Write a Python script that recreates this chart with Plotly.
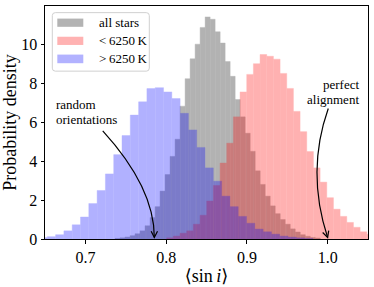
import numpy as np
import plotly.graph_objects as go

# ---------------- data (histogram densities) ----------------
gray_bin_start = 0.7367
gray_bin_width = 0.0062
gray_density = [0.03, 0.06, 0.10, 0.17, 0.27, 0.42, 0.68, 1.10, 1.66, 2.46, 3.31, 4.24,
                5.12, 6.82, 8.23, 9.25, 10.0, 10.86, 11.40, 11.28, 10.64, 10.06, 9.11,
                8.35, 7.16, 6.27, 5.43, 4.50, 3.50, 2.80, 2.20, 1.70, 1.30, 1.00, 0.76,
                0.52, 0.36, 0.22, 0.14, 0.08, 0.05]

red_bin_start = 0.8007
red_bin_width = 0.00826
red_density = [0.06, 0.15, 0.30, 0.42, 0.76, 1.22, 1.95, 2.75, 3.90, 4.92, 6.27, 7.55,
               8.45, 9.00, 9.47, 9.38, 9.23, 8.50, 7.73, 6.55, 5.51, 4.49, 3.65, 2.92,
               2.12, 1.53, 1.16, 0.85, 0.60, 0.37, 0.25, 0.15]

blue_bin_start = 0.64257
blue_bin_width = 0.01028
blue_density = [0.07, 0.12, 0.22, 0.42, 0.73, 1.13, 1.82, 2.49, 3.34, 4.33, 5.31, 6.36,
                7.04, 7.72, 7.77, 7.55, 7.21, 6.45, 5.60, 4.70, 3.65, 2.97, 2.20, 1.66,
                1.16, 0.81, 0.51, 0.37, 0.25, 0.15, 0.10, 0.06, 0.03]

series_names = ["all stars", "&lt;\u20096250\u2009K", "&gt;\u20096250\u2009K"]
x_ticks = [0.7, 0.8, 0.9, 1.0]
y_ticks = [0, 2, 4, 6, 8, 10]
random_value = np.pi / 4
aligned_value = 1.0

# ---------------- figure ----------------
FONT = "Liberation Serif, Times New Roman, DejaVu Serif, serif"
XR = [0.65, 1.05]
YR = [0, 11.96]

def centers(start, width, vals):
    return start + width * (np.arange(len(vals)) + 0.5)

fig = go.Figure()
styles = [("gray", 0.6), ("red", 0.3), ("blue", 0.3)]
hists = [(gray_bin_start, gray_bin_width, gray_density),
         (red_bin_start, red_bin_width, red_density),
         (blue_bin_start, blue_bin_width, blue_density)]
for (start, width, vals), (col, op), name in zip(hists, styles, series_names):
    fig.add_trace(go.Bar(x=centers(start, width, vals), y=vals, width=width,
                         marker=dict(color=col, line=dict(width=0.4, color=col)),
                         opacity=op, name=name, showlegend=False))

shapes = []
annotations = []

# curved arrows (quadratic bezier in data coords) with open arrow heads
PX_X = 323 / (XR[1] - XR[0])
PX_Y = 235 / (YR[1] - YR[0])

def arrow(p0, c, p2):
    path = f"M {p0[0]},{p0[1]} Q {c[0]},{c[1]} {p2[0]},{p2[1]}"
    shapes.append(dict(type="path", path=path, xref="x", yref="y",
                       line=dict(color="black", width=1.2)))
    dx = (p2[0] - c[0]) * PX_X
    dy = (p2[1] - c[1]) * PX_Y
    n = np.hypot(dx, dy)
    ux, uy = dx / n, dy / n
    L, ang = 7.0, np.radians(27)
    pts = []
    for s in (1, -1):
        ca, sa = np.cos(s * ang), np.sin(s * ang)
        bx = -(ux * ca - uy * sa) * L
        by = -(ux * sa + uy * ca) * L
        pts.append((p2[0] + bx / PX_X, p2[1] + by / PX_Y))
    hp = f"M {pts[0][0]},{pts[0][1]} L {p2[0]},{p2[1]} L {pts[1][0]},{pts[1][1]}"
    shapes.append(dict(type="path", path=hp, xref="x", yref="y",
                       line=dict(color="black", width=1.2)))

arrow((0.7215, 5.55), (random_value, 2.65), (random_value, 0.08))
arrow((1.0008, 6.70), (0.9732, 3.46), (aligned_value, 0.08))

ann_font = dict(family=FONT, size=13, color="black")
annotations += [
    dict(text="random", x=0.0279, y=(240 - 104.5) / 235, xref="paper", yref="paper",
         xanchor="left", yanchor="middle", showarrow=False, font=ann_font),
    dict(text="orientations", x=0.0279, y=(240 - 119.5) / 235, xref="paper", yref="paper",
         xanchor="left", yanchor="middle", showarrow=False, font=ann_font),
    dict(text="perfect", x=(361 - 45) / 323, y=(240 - 84) / 235, xref="paper", yref="paper",
         xanchor="right", yanchor="middle", showarrow=False, font=ann_font),
    dict(text="alignment", x=(361 - 45) / 323, y=(240 - 99) / 235, xref="paper", yref="paper",
         xanchor="right", yanchor="middle", showarrow=False, font=ann_font),
]

# legend box drawn manually (matplotlib-like)
def px2paper(px, py):
    return (px - 45) / 323, (240 - py) / 235

x0, y1 = px2paper(52.3, 11.7)
x1, y0 = px2paper(149.3, 70.7)
rx, ry = 3 / 323, 3 / 235
box = (f"M {x0+rx},{y1} L {x1-rx},{y1} Q {x1},{y1} {x1},{y1-ry} L {x1},{y0+ry} "
       f"Q {x1},{y0} {x1-rx},{y0} L {x0+rx},{y0} Q {x0},{y0} {x0},{y0+ry} "
       f"L {x0},{y1-ry} Q {x0},{y1} {x0+rx},{y1} Z")
shapes.append(dict(type="path", path=box, xref="paper", yref="paper",
                   fillcolor="rgba(255,255,255,0.8)", line=dict(color="#d0d0d0", width=1),
                   layer="above"))
rows = [(17.7, 26.0, 22.0), (36.0, 44.3, 40.0), (54.0, 62.7, 58.3)]
for (top, bot, mid), (col, op), name in zip(rows, styles, series_names):
    px0, py1 = px2paper(57.3, top)
    px1, py0 = px2paper(83.3, bot)
    shapes.append(dict(type="rect", x0=px0, x1=px1, y0=py0, y1=py1, xref="paper",
                       yref="paper", fillcolor=col, opacity=op, line=dict(width=0),
                       layer="above"))
    tx, ty = px2paper(96.5, mid)
    annotations.append(dict(text=name, x=tx, y=ty, xref="paper", yref="paper",
                            xanchor="left", yanchor="middle", showarrow=False,
                            font=ann_font))

fig.update_layout(
    width=374, height=287,
    margin=dict(l=45, r=6, t=5, b=47),
    paper_bgcolor="white", plot_bgcolor="white",
    barmode="overlay",
    shapes=shapes, annotations=annotations,
    font=dict(family=FONT, color="black"),
    xaxis=dict(range=XR, tickvals=x_ticks, ticktext=[f"{v:.1f}" for v in x_ticks],
               ticks="outside", ticklen=3.5, tickwidth=0.8, tickcolor="black",
               showline=True, mirror=True, linecolor="black", linewidth=1,
               showgrid=False, zeroline=False, tickfont=dict(size=16, family=FONT),
               title=dict(text="\u27e8sin\u2009<i>i</i>\u27e9", font=dict(size=18, family=FONT),
                          standoff=4)),
    yaxis=dict(range=YR, tickvals=y_ticks, ticks="outside", ticklen=3.5, tickwidth=0.8,
               tickcolor="black", showline=True, mirror=True, linecolor="black",
               linewidth=1, showgrid=False, zeroline=False,
               tickfont=dict(size=16, family=FONT),
               title=dict(text="Probability density", font=dict(size=18, family=FONT),
                          standoff=2)),
)

fig.write_html("out.html", config={"displayModeBar": False},
               post_script="document.body.style.margin='0px';"
                           "document.body.style.overflow='hidden';")
